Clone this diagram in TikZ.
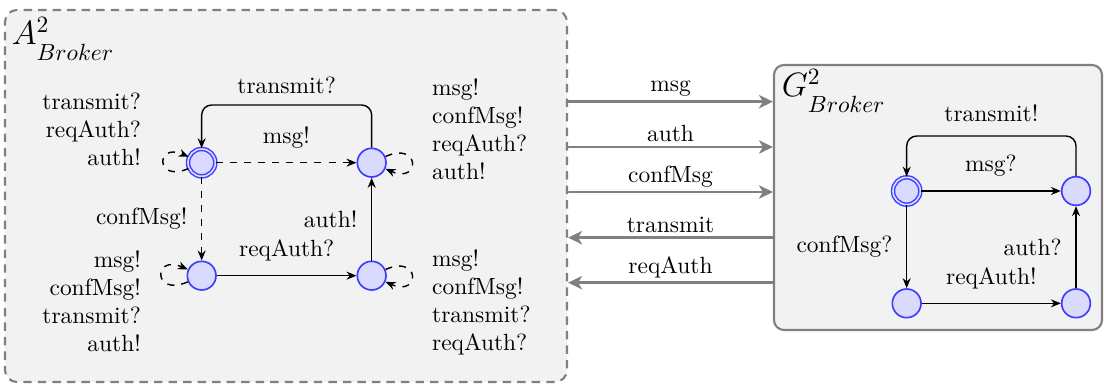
\documentclass[tikz,border=0pt]{standalone}
\usepackage{amsmath,amssymb}
\usepackage{xcolor}
\usepackage{tikz}
\usetikzlibrary{arrows.meta,positioning,calc}
\definecolor{StateBlue}{HTML}{3C3CFF}
\definecolor{StateFill}{HTML}{DADAFF}
\definecolor{PanelGrey}{HTML}{F2F2F2}
\definecolor{EdgeGrey}{HTML}{808080}

% panel title with a lowered subscript
\newcommand{\brName}[1]{#1^2_{\raisebox{-3pt}{$\scriptstyle Broker$}}}

\begin{document}
\begin{tikzpicture}[x=1mm,y=1mm]
  \path[use as bounding box] (0,0) rectangle (165.6,57.75);

  \tikzset{
    brPanelA/.style={
      draw=EdgeGrey,
      fill=PanelGrey,
      line width=.9pt,
      dash pattern=on 3.6pt off 2.6pt,
      rounded corners=1.8mm,
      minimum width=84.3mm,
      minimum height=55.8mm,
      inner sep=0pt
    },
    brPanelG/.style={
      draw=EdgeGrey,
      fill=PanelGrey,
      line width=.9pt,
      rounded corners=1.5mm,
      minimum width=49.2mm,
      minimum height=39.75mm,
      inner sep=0pt
    },
    brTitle/.style={
      inner sep=0pt,
      font=\fontsize{14}{16}\selectfont,
      anchor=base west
    },
    brState/.style={
      circle,
      draw=StateBlue,
      fill=StateFill,
      line width=.7pt,
      minimum size=4.3mm,
      inner sep=0pt
    },
    brInit/.style={
      brState,
      double=StateFill,
      double distance=.7pt,
      line width=.6pt,
      minimum size=4.1mm
    },
    brFlow/.style={
      -{Stealth[length=1.5mm,width=1.2mm]},
      draw=black,
      line width=.6pt
    },
    brOpt/.style={
      brFlow,
      dashed
    },
    brLoopL/.style={
      brOpt,
      loop,
      out=204,
      in=156,
      min distance=4.6mm,
      looseness=8
    },
    brLoopR/.style={
      brOpt,
      loop,
      out=24,
      in=-24,
      min distance=4.6mm,
      looseness=8
    },
    brChan/.style={
      -{Stealth[length=2.1mm,width=2mm,inset=.6mm]},
      draw=EdgeGrey,
      line width=1.2pt
    },
    brLbl/.style={
      inner sep=0pt,
      align=left
    },
    brChanLbl/.style={
      above,
      inner sep=1.5pt
    }
  }

  % the two panels: abstraction A (dashed) and guarantee G (solid)
  \node[brPanelA] (panelA) at (42.9,28.35) {};
  \node[brPanelG] (panelG) at (140.7,28.125) {};
  \node[brTitle] (titleA) at (1.7,51.0) {$\brName{A}$};
  \node[brTitle] (titleG) at (117.2,43.2) {$\brName{G}$};

  % states of A
  \node[brInit]  (a0) at (30.25,33.35) {};
  \node[brState] (a1) at (55.75,33.35) {};
  \node[brState] (a2) at (30.25,16.4) {};
  \node[brState] (a3) at (55.75,16.4) {};

  \draw[brOpt]  (a0) -- node[above=2.5pt] {msg!} (a1);
  \draw[brOpt]  (a0) -- node[left=2.5pt] {confMsg!} (a2);
  \draw[brFlow] (a2) -- node[above=2.5pt] {reqAuth?} (a3);
  \draw[brFlow] (a3) -- node[left=2.5pt] {auth!} (a1);
  \draw[brFlow,rounded corners=1.5mm] (a1.north)
    |- node[pos=.75,above=1pt] {transmit?} (a0.north |- 0,42) -- (a0.north);

  % optional self loops and their actions
  \path (a0) edge[brLoopL] (a0);
  \path (a1) edge[brLoopR] (a1);
  \path (a2) edge[brLoopL] (a2);
  \path (a3) edge[brLoopR] (a3);
  \node[brLbl,anchor=east,align=right] (a0acts) at (21.2,38.3)
    {transmit?\\reqAuth?\\auth!};
  \node[brLbl,anchor=west] (a1acts) at (64.75,38.4)
    {msg!\\confMsg!\\reqAuth?\\auth!};
  \node[brLbl,anchor=east,align=right] (a2acts) at (21.2,12.6)
    {msg!\\confMsg!\\transmit?\\auth!};
  \node[brLbl,anchor=west] (a3acts) at (64.75,12.4)
    {msg!\\confMsg!\\transmit?\\reqAuth?};

  % states of G
  \node[brInit]  (g0) at (136.0,29.1) {};
  \node[brState] (g1) at (161.4,29.1) {};
  \node[brState] (g2) at (136.0,12.25) {};
  \node[brState] (g3) at (161.4,12.25) {};

  \draw[brFlow] (g0) -- node[above=2.5pt] {msg?} (g1);
  \draw[brFlow] (g0) -- node[left=2.5pt] {confMsg?} (g2);
  \draw[brFlow] (g2) -- node[above=2.5pt] {reqAuth!} (g3);
  \draw[brFlow] (g3) -- node[left=2.5pt] {auth?} (g1);
  \draw[brFlow,rounded corners=1.5mm] (g1.north)
    |- node[pos=.75,above=2.5pt] {transmit!} (g0.north |- 0,37.35) -- (g0.north);

  % channels between the panels
  \draw[brChan] (panelA.east |- 0,42.5) -- node[brChanLbl] {msg} (panelG.west |- 0,42.5);
  \draw[brChan] (panelA.east |- 0,35.7) -- node[brChanLbl] {auth} (panelG.west |- 0,35.7);
  \draw[brChan] (panelA.east |- 0,28.95) -- node[brChanLbl] {confMsg} (panelG.west |- 0,28.95);
  \draw[brChan] (panelG.west |- 0,22.1) -- node[brChanLbl] {transmit} (panelA.east |- 0,22.1);
  \draw[brChan] (panelG.west |- 0,15.35) -- node[brChanLbl] {reqAuth} (panelA.east |- 0,15.35);
\end{tikzpicture}
\end{document}
